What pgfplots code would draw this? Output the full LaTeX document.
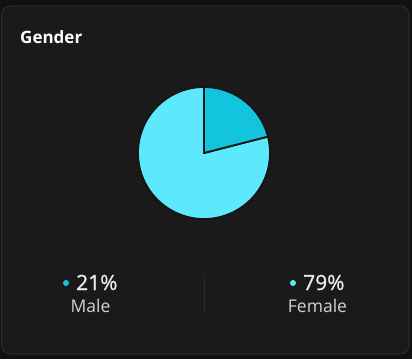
\documentclass[border=0pt]{standalone}
\usepackage{pgfplots}
\pgfplotsset{compat=1.18}
\usepackage{pgfplotstable}
\usepackage{fontspec}
\setmainfont{Open Sans}
\newfontfamily\medfont[FakeBold=0.8]{Open Sans}
\definecolor{outerbg}{HTML}{111111}
\definecolor{cardbg}{HTML}{1A1A1A}
\definecolor{cardborder}{HTML}{2E2E2E}
\definecolor{malec}{HTML}{12C4DC}
\definecolor{femalec}{HTML}{5CE9FB}
\definecolor{edgec}{HTML}{151515}
\definecolor{pcttext}{HTML}{EEEEEE}
\definecolor{labtext}{HTML}{D2D2D2}
\definecolor{divider}{HTML}{2A2A2A}
\pgfplotstableread{
label value
Male 21
Female 79
}\gendertable
\begin{document}
\pgfplotstablegetelem{0}{value}\of\gendertable\let\maleval\pgfplotsretval
\pgfplotstablegetelem{1}{value}\of\gendertable\let\femaleval\pgfplotsretval
\begin{tikzpicture}[x=1pt,y=1pt]
\fill[outerbg] (0,0) rectangle (412,359);
\draw[fill=cardbg,draw=cardborder,line width=1pt,rounded corners=9pt] (1.5,353) rectangle (409,5);
\node[anchor=base west,font=\fontsize{17}{20}\selectfont\bfseries,text=white,inner sep=0pt] at (20,315) {Gender};
\begin{axis}[at={(204pt,206pt)},anchor=center,scale only axis,width=132pt,height=132pt,
  xmin=-1,xmax=1,ymin=-1,ymax=1,hide axis,clip=false]
\addplot[fill=femalec,draw=edgec,line width=1.8pt,line join=round,domain=90-360:90-3.6*\maleval,samples=120,variable=\t]
  ({cos(\t)},{sin(\t)}) -- (axis cs:0,0) -- cycle;
\addplot[fill=malec,draw=edgec,line width=1.8pt,line join=round,domain=90-3.6*\maleval:90,samples=40,variable=\t]
  ({cos(\t)},{sin(\t)}) -- (axis cs:0,0) -- cycle;
\end{axis}
\fill[malec] (66,76) circle (3pt);
\fill[femalec] (293,76) circle (3pt);
\node[anchor=base west,font=\fontsize{21}{24}\selectfont\medfont,text=pcttext,inner sep=0pt] at (76,69) {\maleval\%};
\node[anchor=base west,font=\fontsize{21}{24}\selectfont\medfont,text=pcttext,inner sep=0pt] at (303,69) {\femaleval\%};
\node[anchor=base,font=\fontsize{17.5}{20}\selectfont,text=labtext,inner sep=0pt] at (90.5,47) {Male};
\node[anchor=base,font=\fontsize{17.5}{20}\selectfont,text=labtext,inner sep=0pt] at (317.5,47) {Female};
\draw[divider,line width=0.8pt] (204,85) -- (204,45);
\end{tikzpicture}
\end{document}
